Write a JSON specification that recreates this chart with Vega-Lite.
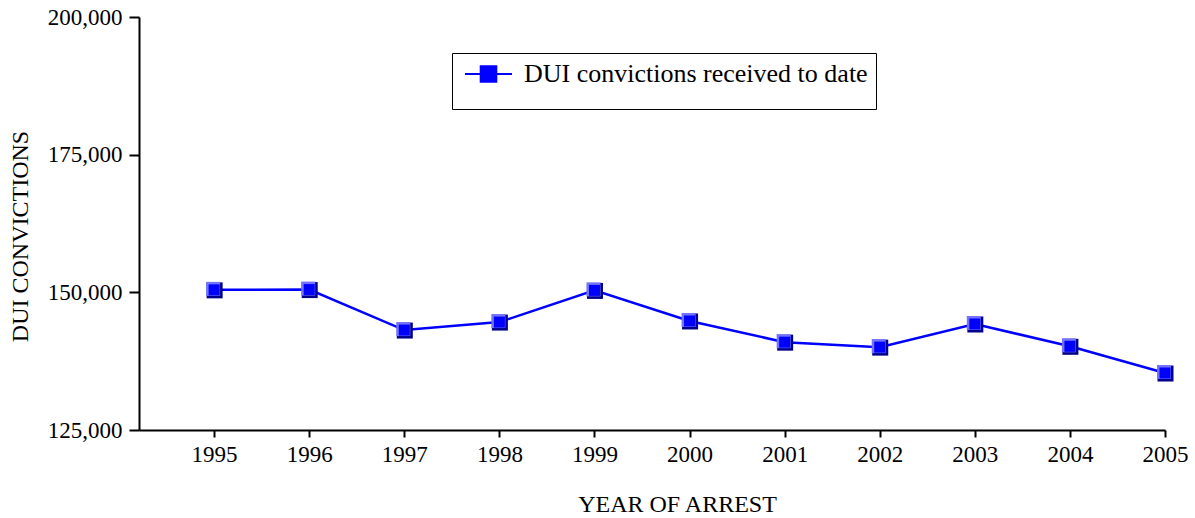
{
  "$schema": "https://vega.github.io/schema/vega-lite/v6.json",
  "width": 1026,
  "height": 413,
  "autosize": {"type": "none"},
  "padding": {"left": 139, "top": 17, "right": 30, "bottom": 88},
  "background": "white",
  "config": {
    "view": {"stroke": null},
    "font": "Liberation Serif",
    "axis": {
      "grid": false,
      "domainColor": "black",
      "domainWidth": 2,
      "tickColor": "black",
      "tickWidth": 2,
      "labelFont": "Liberation Serif",
      "labelFontSize": 23,
      "labelColor": "black",
      "labelFlush": false,
      "titleFont": "Liberation Serif",
      "titleFontSize": 24,
      "titleFontWeight": "normal",
      "titleColor": "black"
    }
  },
  "data": {
    "values": [
      {"year": 1995, "convictions": 150450, "series": "DUI convictions received to date"},
      {"year": 1996, "convictions": 150500, "series": "DUI convictions received to date"},
      {"year": 1997, "convictions": 143150, "series": "DUI convictions received to date"},
      {"year": 1998, "convictions": 144600, "series": "DUI convictions received to date"},
      {"year": 1999, "convictions": 150350, "series": "DUI convictions received to date"},
      {"year": 2000, "convictions": 144800, "series": "DUI convictions received to date"},
      {"year": 2001, "convictions": 140950, "series": "DUI convictions received to date"},
      {"year": 2002, "convictions": 140050, "series": "DUI convictions received to date"},
      {"year": 2003, "convictions": 144250, "series": "DUI convictions received to date"},
      {"year": 2004, "convictions": 140200, "series": "DUI convictions received to date"},
      {"year": 2005, "convictions": 135350, "series": "DUI convictions received to date"}
    ]
  },
  "encoding": {
    "x": {
      "field": "year",
      "type": "quantitative",
      "scale": {"domain": [1994.21, 2005], "nice": false, "zero": false},
      "axis": {
        "values": [1995, 1996, 1997, 1998, 1999, 2000, 2001, 2002, 2003, 2004, 2005],
        "format": "d",
        "tickSize": 7,
        "labelPadding": 6,
        "title": "YEAR OF ARREST",
        "titleX": 538,
        "titleY": 74,
        "titleAlign": "center",
        "titleBaseline": "middle"
      }
    },
    "y": {
      "field": "convictions",
      "type": "quantitative",
      "scale": {"domain": [125000, 200000], "nice": false, "zero": false},
      "axis": {
        "values": [125000, 150000, 175000, 200000],
        "format": ",d",
        "tickSize": 10,
        "labelPadding": 7,
        "title": "DUI CONVICTIONS",
        "titleX": -119,
        "titleY": 219,
        "titleAngle": 270,
        "titleAlign": "center",
        "titleBaseline": "middle"
      }
    }
  },
  "layer": [
    {
      "mark": {"type": "line", "color": "#0000ff", "strokeWidth": 2.5}
    },
    {
      "mark": {"type": "point", "shape": "square", "filled": true, "size": 256, "color": "#00008a", "opacity": 1, "xOffset": 0.5, "yOffset": 0.5}
    },
    {
      "mark": {"type": "point", "shape": "square", "filled": true, "size": 196, "color": "#7373ff", "opacity": 1, "xOffset": -1, "yOffset": -1}
    },
    {
      "mark": {"type": "point", "shape": "square", "filled": true, "size": 121, "opacity": 1},
      "encoding": {
        "color": {
          "field": "series",
          "type": "nominal",
          "scale": {"range": ["#0000ff"]},
          "legend": {
            "title": " ",
            "titleOrient": "bottom",
            "titleFontSize": 14,
            "titlePadding": 0,
            "orient": "none",
            "legendX": 313,
            "legendY": 36,
            "padding": 8,
            "strokeColor": "black",
            "fillColor": "white",
            "symbolType": "M-1.96,0H1.96M-0.65,-0.65H0.65V0.65H-0.65Z",
            "symbolSize": 576,
            "symbolOffset": 15.5,
            "symbolStrokeWidth": 2,
            "symbolFillColor": "#0000ff",
            "symbolStrokeColor": "#0000ff",
            "labelOffset": 22.5,
            "labelFont": "Liberation Serif",
            "labelFontSize": 26,
            "labelColor": "black",
            "labelLimit": 500,
            "encode": {
              "legend": {"update": {"strokeWidth": {"value": 2.5}}},
              "symbols": {"update": {"fill": {"value": "#0000ff"}, "stroke": {"value": "#0000ff"}, "strokeWidth": {"value": 2}, "opacity": {"value": 1}}}
            }
          }
        }
      }
    }
  ]
}
